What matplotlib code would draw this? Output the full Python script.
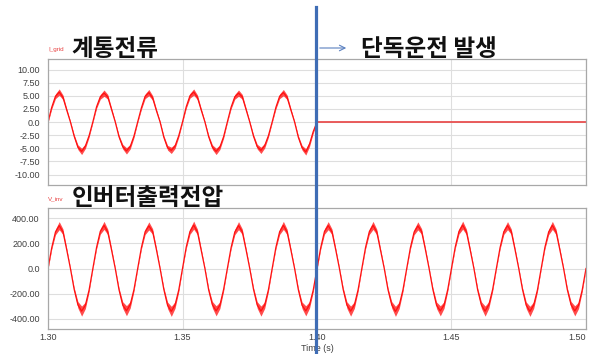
import numpy as np
import matplotlib.pyplot as plt
from matplotlib.lines import Line2D

plt.rcParams['font.family'] = ['Liberation Sans', 'DejaVu Sans']

# waveforms sampled every 1/720 s (12 points per 60 Hz cycle)
t_start = 1.30
t_trip = 1.40
t_end = 1.50
step = 1 / 720

# grid current [A] until islanding starts at 1.40 s
i_grid = [
    0.0, 2.8, 4.9, 5.7, 4.7, 2.3, 0.0, -2.7, -4.8, -5.6, -4.6, -2.6,
    0.0, 2.9, 4.8, 5.5, 4.8, 2.4, 0.0, -2.8, -4.7, -5.5, -4.7, -2.7,
    0.0, 2.7, 4.9, 5.6, 4.6, 2.2, 0.0, -2.9, -4.9, -5.4, -4.6, -2.6,
    0.0, 2.9, 5.0, 5.7, 4.7, 2.3, 0.0, -2.8, -4.8, -5.6, -4.8, -2.8,
    0.0, 2.8, 4.8, 5.5, 4.8, 2.4, 0.0, -2.7, -4.7, -5.4, -4.5, -2.6,
    0.0, 2.8, 4.9, 5.6, 4.7, 2.3, 0.0, -2.9, -4.9, -5.7, -4.2, -1.8,
    0.0,
]

# inverter output voltage [V]
v_inv = [
    0, 165, 290, 340, 292, 150, 0, -165, -288, -338, -292, -170,
    0, 168, 295, 342, 290, 148, 0, -168, -290, -335, -288, -168,
    0, 166, 292, 338, 294, 152, 0, -166, -292, -340, -290, -170,
    0, 170, 294, 344, 290, 146, 0, -170, -288, -336, -292, -166,
    0, 165, 290, 340, 292, 150, 0, -165, -290, -338, -290, -168,
    0, 168, 292, 342, 290, 148, 0, -168, -292, -336, -288, -170,
    0, 166, 294, 340, 292, 150, 0, -166, -290, -338, -290, -168,
    0, 168, 292, 342, 290, 146, 0, -168, -288, -340, -292, -170,
    0, 165, 290, 338, 294, 152, 0, -165, -292, -336, -290, -166,
    0, 170, 295, 344, 290, 148, 0, -170, -290, -338, -288, -168,
    0, 166, 292, 340, 292, 150, 0, -166, -292, -340, -290, -170,
    0, 168, 290, 342, 290, 148, 0, -168, -288, -336, -292, -168,
    0,
]

# switching ripple half-width at each point of a cycle
ripple_i = [0.15, 0.3, 0.45, 0.6, 0.45, 0.3, 0.15, 0.3, 0.45, 0.6, 0.45, 0.3]
ripple_v = [6, 12, 22, 32, 22, 12, 6, 14, 26, 40, 26, 14]

i_ticks = [10, 7.5, 5, 2.5, 0, -2.5, -5, -7.5, -10]
i_labels = ['10.00', '7.50', '5.00', '2.50', '0.0', '-2.50', '-5.00', '-7.50', '-10.00']
v_ticks = [400, 200, 0, -200, -400]
v_labels = ['400.00', '200.00', '0.0', '-200.00', '-400.00']
t_ticks = [1.30, 1.35, 1.40, 1.45, 1.50]
t_labels = ['1.30', '1.35', '1.40', '1.45', '1.50']

W, H = 592, 354
fig = plt.figure(figsize=(W / 100, H / 100), dpi=100)
ax_i = fig.add_axes([48 / W, 1 - 185 / H, 538 / W, 126 / H])
ax_v = fig.add_axes([48 / W, 1 - 329 / H, 538 / W, 121 / H])


def style(ax, ylim, ticks, labels):
    ax.set_xlim(t_start, t_end)
    ax.set_ylim(*ylim)
    ax.set_yticks(ticks)
    ax.set_yticklabels(labels)
    ax.set_xticks(t_ticks)
    ax.tick_params(length=0, labelsize=6.5, labelcolor='#404040', pad=6)
    ax.tick_params(axis='x', pad=3)
    ax.grid(color='#dedede', lw=0.8)
    ax.set_axisbelow(True)
    for s in ax.spines.values():
        s.set_color('#a8a8a8')
        s.set_linewidth(0.9)


style(ax_i, (-12, 12), i_ticks, i_labels)
style(ax_v, (-480, 480), v_ticks, v_labels)
ax_i.set_xticklabels([])
ax_v.set_xticklabels(t_labels)
ax_v.get_xticklabels()[-1].set_ha('right')
ax_v.set_xlabel('Time (s)', fontsize=6.5, color='#404040', labelpad=1)

red = '#ff1010'

t_i = t_start + step * np.arange(len(i_grid))
i_arr = np.array(i_grid)
r_i = np.resize(ripple_i, len(i_grid))
ax_i.fill_between(t_i, i_arr - r_i, i_arr + r_i, color=red, lw=0, alpha=0.75)
ax_i.plot(t_i, i_arr, color=red, lw=0.9)
ax_i.plot([t_trip, t_end], [0, 0], color='#e85050', lw=1.3)

t_v = t_start + step * np.arange(len(v_inv))
v_arr = np.array(v_inv)
r_v = np.resize(ripple_v, len(v_inv))
ax_v.fill_between(t_v, v_arr - r_v, v_arr + r_v, color=red, lw=0, alpha=0.75)
ax_v.plot(t_v, v_arr, color=red, lw=0.9)

# signal names
fig.text(48 / W, 1 - 49 / H, 'I_grid', fontsize=4.5, color='#e84040', va='center')
fig.text(48 / W, 1 - 199 / H, 'V_inv', fontsize=4.5, color='#e84040', va='center')

kr = dict(family=['Noto Sans CJK KR', 'DejaVu Sans'], fontsize=17,
          fontweight='bold', color='#111111', va='center')
fig.text(71 / W, 1 - 49 / H, '계통전류', **kr)
fig.text(72 / W, 1 - 198 / H, '인버터출력전압', **kr)
fig.text(361 / W, 1 - 49 / H, '단독운전 발생', **kr)

# islanding instant marker
fig.add_artist(Line2D([315.5 / W, 315.5 / W], [1 - 7 / H, 0],
                      transform=fig.transFigure, color='#3f6db5', lw=2.3))
fig.add_artist(plt.Annotation('', xy=(349 / W, 1 - 48 / H), xytext=(317 / W, 1 - 48 / H),
                              xycoords='figure fraction',
                              arrowprops=dict(arrowstyle='->', color='#5b80c0',
                                              lw=0.8, mutation_scale=10)))

fig.savefig('out.png', dpi=100)
